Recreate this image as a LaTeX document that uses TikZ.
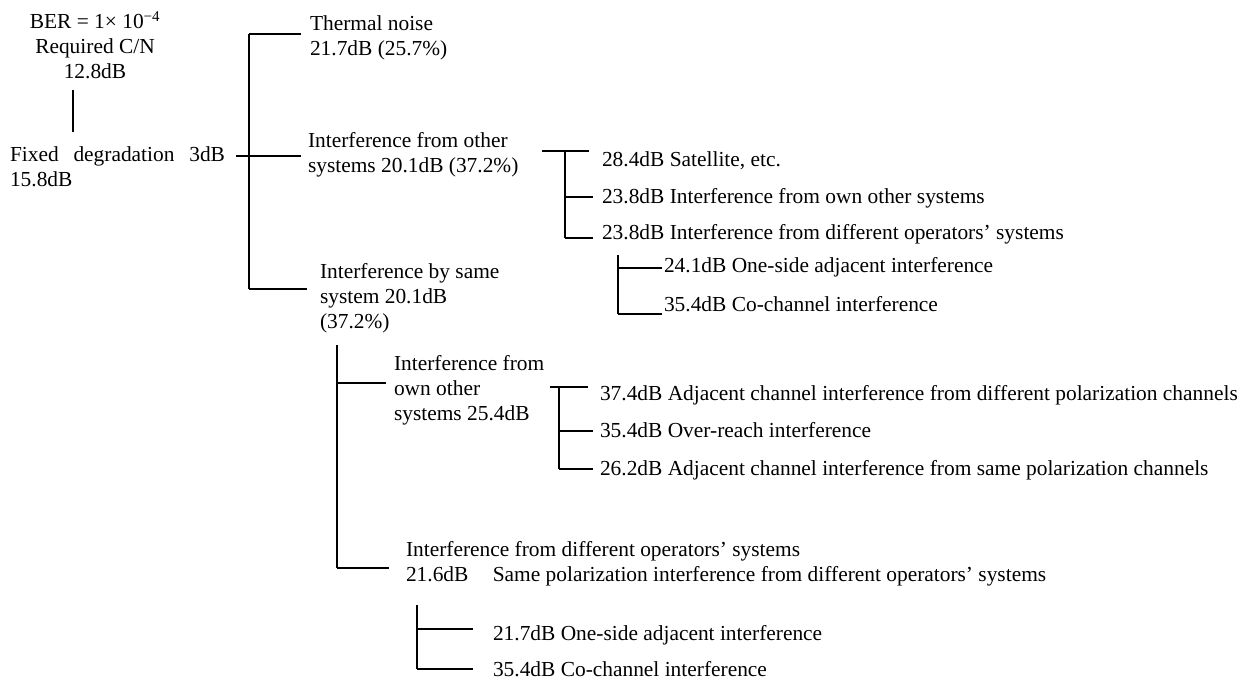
\documentclass[tikz,border=0pt]{standalone}
\usepackage{fontspec}
\setmainfont{Liberation Serif}
\newcommand\labelsize{\fontsize{21.4}{25}\selectfont}
\begin{document}
\begin{tikzpicture}[x=1pt,y=-1pt,
  txt/.style={anchor=north west, yshift=17.5pt, inner sep=0pt, outer sep=0pt,
              align=left, font=\labelsize, execute at begin node=\strut},
  ctxt/.style={txt, anchor=north, align=center},
  br/.style={line width=1.5pt}]
\useasboundingbox (0,0) rectangle (1258,679);

% ---- root: required C/N and fixed degradation
\node[ctxt] (req) at (95,29) {BER = 1× 10\textsuperscript{−4}\\Required C/N\\12.8dB};
\coordinate (r1) at (73,90);
\coordinate (r2) at (73,132);
\draw[br] (r1) -- (r2);
\node[txt] (fix) at (10,164) {\makebox[215pt][s]{Fixed degradation 3dB}\\15.8dB};

% ---- first level
\node[txt] (thermal) at (310,33) {Thermal noise\\21.7dB (25.7\%)};
\node[txt] (other) at (308,150) {Interference from other\\systems 20.1dB (37.2\%)};
\node[txt] (same) at (320,281) {Interference by same\\system 20.1dB\\(37.2\%)};

\coordinate (s1t) at (249,34);
\coordinate (s1m) at (249,156);
\coordinate (s1b) at (249,289);
\draw[br] (s1t) -- (s1b);
\draw[br] (236,156) -- (s1m);
\draw[br] (s1t) -- ++(52,0);
\draw[br] (s1m) -- ++(52,0);
\draw[br] (s1b) -- ++(58,0);

% ---- interference from other systems
\node[txt] (a1) at (602,167) {28.4dB Satellite, etc.};
\node[txt] (a2) at (602,204) {23.8dB Interference from own other systems};
\node[txt] (a3) at (602,240) {23.8dB Interference from different operators’ systems};
\coordinate (sat) at (565,151);
\coordinate (sab) at (565,238);
\draw[br] (sat) -- (sab);
\draw[br] (542,151) -- (589,151);
\draw[br] (565,197) -- (593,197);
\draw[br] (sab) -- (593,238);

\node[txt] (b1) at (664,273) {24.1dB One-side adjacent interference};
\node[txt] (b2) at (664,311) {35.4dB Co-channel interference};
\coordinate (sbt) at (618,255);
\coordinate (sbb) at (618,314);
\draw[br] (sbt) -- (sbb);
\draw[br] (618,268) -- (662,268);
\draw[br] (sbb) -- (662,314);

% ---- interference by same system
\node[txt] (c1) at (394,373) {Interference from\\own other\\systems 25.4dB};
\node[txt] (c2) at (406,559) {Interference from different operators’ systems\\21.6dB\hspace{19pt} Same polarization interference from different operators’ systems};
\coordinate (sct) at (337,345);
\coordinate (scb) at (337,568);
\draw[br] (sct) -- (scb);
\draw[br] (337,383) -- (386,383);
\draw[br] (scb) -- (389,568);

\node[txt] (d1) at (600,400) {37.4dB Adjacent channel interference from different polarization channels};
\node[txt] (d2) at (600,437) {35.4dB Over-reach interference};
\node[txt] (d3) at (600,475) {26.2dB Adjacent channel interference from same polarization channels};
\coordinate (sdt) at (559,387);
\coordinate (sdb) at (559,469);
\draw[br] (sdt) -- (sdb);
\draw[br] (550,387) -- (588,387);
\draw[br] (559,431) -- (593,431);
\draw[br] (sdb) -- (593,469);

\node[txt] (e1) at (493,640) {21.7dB One-side adjacent interference};
\node[txt] (e2) at (493,676) {35.4dB Co-channel interference};
\coordinate (set) at (417,605);
\coordinate (seb) at (417,669);
\draw[br] (set) -- (seb);
\draw[br] (417,629) -- (473,629);
\draw[br] (seb) -- (473,669);
\end{tikzpicture}
\end{document}
